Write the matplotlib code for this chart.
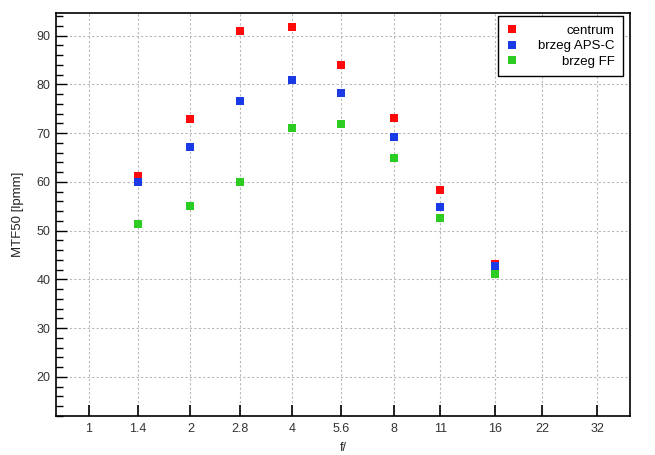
import matplotlib
matplotlib.use("Agg")
import matplotlib.pyplot as plt
from matplotlib.ticker import FixedLocator, MultipleLocator, NullLocator
from matplotlib.transforms import Affine2D

plt.rcParams['font.family'] = ['Liberation Sans', 'DejaVu Sans']

fnum = [1.4, 2, 2.8, 4, 5.6, 8, 11, 16]
xticks = [1, 1.4, 2, 2.8, 4, 5.6, 8, 11, 16, 22, 32]
xticklabels = ["1", "1.4", "2", "2.8", "4", "5.6", "8", "11", "16", "22", "32"]
centrum = [61.2, 72.8, 91.0, 91.8, 83.9, 73.0, 58.4, 43.2]
aps_c = [59.9, 67.1, 76.5, 80.8, 78.2, 69.2, 54.9, 42.8]
ff = [51.3, 55.1, 60.0, 71.0, 71.8, 64.9, 52.6, 41.2]
labels = ["centrum", "brzeg APS-C", "brzeg FF"]
colors = ["#ff0a0a", "#1a3ae6", "#2ccc22"]

fig = plt.figure(figsize=(6.55, 4.55), dpi=100)
ax = fig.add_axes([0.0855, 0.0857, 0.8765, 0.8865])

for ys, lab, c in zip([centrum, aps_c, ff], labels, colors):
    ax.plot(fnum, ys, linestyle='none', marker='s', markersize=5.2,
            color=c, markeredgewidth=0, label=lab, zorder=3)

ax.set_xscale('log')
ax.set_xlim(0.8, 40.1)
ax.set_ylim(12, 94.7)
ax.xaxis.set_major_locator(FixedLocator(xticks))
ax.xaxis.set_minor_locator(NullLocator())
ax.set_xticklabels(xticklabels)
ax.yaxis.set_major_locator(MultipleLocator(10))
ax.yaxis.set_minor_locator(MultipleLocator(2))

ax.grid(True, which='major', color='#b8b8b8', linestyle=(0, (2, 2)), linewidth=0.8)
ax.set_axisbelow(True)
for s in ax.spines.values():
    s.set_linewidth(1.2)
    s.set_color('black')

ax.tick_params(axis='x', which='major', direction='in', length=8, width=1.2,
               labelsize=9, labelcolor='#333333', pad=5, top=False)
ax.tick_params(axis='y', which='major', direction='in', length=8, width=1.0,
               labelsize=9, labelcolor='#333333', pad=4, right=False)
ax.tick_params(axis='y', which='minor', direction='in', length=5, width=1.0, right=False)

ax.set_xlabel("f/", fontsize=9, color='#222222', labelpad=5)
ax.set_ylabel("MTF50 [lpmm]", fontsize=9.5, color='#222222', labelpad=9)

leg = ax.legend(loc='upper right', bbox_to_anchor=(0.9878, 0.9918),
                fontsize=9.5, frameon=True, fancybox=False,
                edgecolor='black', framealpha=1, handlelength=0.8,
                handletextpad=1.55, labelspacing=0.25, borderpad=0.65,
                borderaxespad=0.0, markerscale=1.0)
leg.get_frame().set_linewidth(1.0)

fig.canvas.draw()
renderer = fig.canvas.get_renderer()
texts = leg.get_texts()
widths = [t.get_window_extent(renderer).width for t in texts]
mw = max(widths)
for t, w in zip(texts, widths):
    t.set_transform(t.get_transform() + Affine2D().translate(mw - w, 0))

fig.savefig("out.png", dpi=100)
